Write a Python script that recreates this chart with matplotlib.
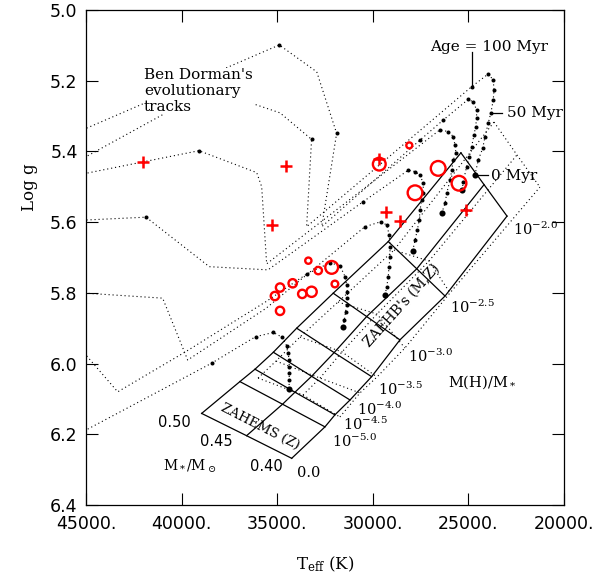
import matplotlib

matplotlib.use("Agg")
import matplotlib.pyplot as plt
from matplotlib.ticker import FixedLocator, FuncFormatter

plt.rcParams["font.family"] = ["DejaVu Serif"]
plt.rcParams["mathtext.fontset"] = "dejavuserif"

# ZAEHB grid: rows = M(H)/M* level (ZAHEMS, 1e-5.0 ... 1e-2.0), cols = M*/Msun 0.50, 0.45, 0.40
grid_teff = [
    [38950, 36600, 34240],
    [36950, 34720, 32500],
    [36160, 34070, 31980],
    [35200, 33200, 31190],
    [33980, 32020, 30060],
    [32070, 30320, 28580],
    [29190, 27700, 26220],
    [25390, 24180, 22980],
]
grid_logg = [
    [6.141, 6.204, 6.268],
    [6.051, 6.115, 6.179],
    [6.016, 6.081, 6.145],
    [5.968, 6.036, 6.103],
    [5.900, 5.969, 6.037],
    [5.801, 5.867, 5.933],
    [5.655, 5.732, 5.809],
    [5.404, 5.494, 5.583],
]
# second (dotted) ZAEHB grid, levels 1e-4.5 ... 1e-2.0
dgrid_teff = [
    [36000, 33650, 31720],
    [35060, 32760, 30670],
    [33810, 31610, 29780],
    [31820, 29780, 28320],
    [28890, 27060, 25960],
    [23660, 22460, 21260],
]
dgrid_logg = [
    [6.041, 6.089, 6.151],
    [5.993, 6.041, 6.083],
    [5.925, 5.967, 6.038],
    [5.826, 5.860, 5.956],
    [5.679, 5.710, 5.800],
    [5.317, 5.410, 5.501],
]

# evolutionary tracks, starting on the ZAEHB
track_a_teff = [34380, 34370, 34370, 34370, 34380, 34420, 34500, 34730, 35200, 36130, 38430, 45000]
track_a_logg = [6.072, 6.046, 6.028, 6.009, 5.990, 5.971, 5.950, 5.926, 5.912, 5.924, 5.999, 6.188]
track_b_teff = [31540, 31490, 31420, 31370, 31330, 31330, 31370, 31450, 31720, 32240, 33460,
                35590, 39770, 43340, 45000]
track_b_logg = [5.896, 5.877, 5.853, 5.834, 5.815, 5.797, 5.778, 5.754, 5.723, 5.715, 5.747,
                5.825, 5.966, 6.080, 5.976]
track_g_teff = [29360, 29270, 29190, 29150, 29100, 29100, 29140, 29270, 29590, 30410,
                35590, 39680, 40990, 45000]
track_g_logg = [5.806, 5.783, 5.754, 5.726, 5.698, 5.669, 5.636, 5.608, 5.599, 5.613,
                5.844, 5.990, 5.815, 5.801]
track_f_teff = [27910, 27790, 27670, 27570, 27530, 27440, 27360, 27360, 27530, 27790, 28140, 30500,
                35480, 38550, 41860, 45000]
track_f_logg = [5.681, 5.651, 5.622, 5.594, 5.566, 5.537, 5.518, 5.490, 5.467, 5.457, 5.453, 5.542,
                5.735, 5.726, 5.586, 5.594]
track_e_teff = [26400, 26220, 26130, 25960, 25870, 25790, 25650, 25700, 25790, 26050, 26490,
                35550, 35810, 36070, 39090, 45000]
track_e_logg = [5.575, 5.547, 5.518, 5.481, 5.453, 5.424, 5.405, 5.382, 5.358, 5.344, 5.339,
                5.718, 5.500, 5.460, 5.398, 5.462]
track_d_teff = [25320, 25270, 25090, 24950, 24830, 24710, 24620, 24570, 24570, 24740, 25010, 26310, 27530,
                32670, 31890, 32930, 34890, 45000]
track_d_logg = [5.509, 5.486, 5.443, 5.415, 5.387, 5.354, 5.330, 5.306, 5.283, 5.260, 5.253, 5.311, 5.368,
                5.613, 5.349, 5.175, 5.099, 5.335]
track_c_teff = [24660, 24480, 24250, 24130, 23960, 23820, 23700, 23660, 23700, 23960, 24830,
                33460, 33200, 34850, 37310, 39400, 45000]
track_c_logg = [5.467, 5.424, 5.391, 5.358, 5.320, 5.290, 5.255, 5.226, 5.198, 5.181, 5.217,
                5.613, 5.366, 5.291, 5.246, 5.249, 5.415]
# (teff, logg, number of leading points marked with a time-step dot)
tracks = [
    (track_a_teff, track_a_logg, 11),
    (track_b_teff, track_b_logg, 11),
    (track_g_teff, track_g_logg, 10),
    (track_f_teff, track_f_logg, 12),
    (track_e_teff, track_e_logg, 11),
    (track_d_teff, track_d_logg, 13),
    (track_c_teff, track_c_logg, 11),
]
# isolated dots along the post-EHB parts of Dorman's tracks
post_dot_teff = [34890, 31890, 33200, 39090, 41860]
post_dot_logg = [5.099, 5.349, 5.366, 5.398, 5.586]

# observed stars
cross_teff = [42000, 34540, 35260, 29330, 28580, 25130, 29660]
cross_logg = [5.431, 5.442, 5.608, 5.571, 5.596, 5.566, 5.422]
circle_teff = [29660, 28090, 26580, 27790, 25490, 32150, 31980, 33370, 32850, 34190,
               34850, 35120, 33690, 33200, 34850]
circle_logg = [5.436, 5.383, 5.448, 5.517, 5.490, 5.728, 5.775, 5.709, 5.737, 5.773,
               5.785, 5.809, 5.803, 5.797, 5.851]
circle_size = [9.2, 4.3, 10.6, 10.6, 10.6, 9.2, 4.8, 4.5, 5.3, 6.0, 6.0, 6.0, 6.0, 7.4, 6.0]

mh_labels = [r"$10^{-2.0}$", r"$10^{-2.5}$", r"$10^{-3.0}$", r"$10^{-3.5}$",
             r"$10^{-4.0}$", r"$10^{-4.5}$", r"$10^{-5.0}$", "0.0"]
mh_label_teff = [22670, 25960, 28140, 29710, 30810, 31580, 32150, 33980]
mh_label_logg = [5.636, 5.857, 5.995, 6.089, 6.145, 6.188, 6.235, 6.320]
mass_labels = ["0.50", "0.45", "0.40"]
mass_label_teff = [41220, 39040, 36420]
mass_label_logg = [6.179, 6.232, 6.303]

fig = plt.figure(figsize=(6.05, 5.83), dpi=100)
ax = fig.add_axes([0.1421, 0.1338, 0.7901, 0.8491])

DOT = dict(color="black", lw=0.8, ls=(0, (1, 2.6)))

# dotted grid
for row_t, row_g in zip(dgrid_teff, dgrid_logg):
    ax.plot(row_t, row_g, **DOT)
for j in range(3):
    ax.plot([r[j] for r in dgrid_teff], [r[j] for r in dgrid_logg], **DOT)

# solid ZAEHB grid
for row_t, row_g in zip(grid_teff, grid_logg):
    ax.plot(row_t, row_g, color="black", lw=0.9)
for j in range(3):
    ax.plot([r[j] for r in grid_teff], [r[j] for r in grid_logg], color="black", lw=0.9)

# tracks
for t, g, n in tracks:
    ax.plot(t, g, **DOT)
    ax.plot(t[1:n], g[1:n], "o", color="black", ms=2.9, mew=0)
    ax.plot(t[:1], g[:1], "o", color="black", ms=4.4, mew=0)
ax.plot(post_dot_teff, post_dot_logg, "o", color="black", ms=2.9, mew=0)

# stars
ax.plot(cross_teff, cross_logg, "+", color="red", ms=9, mew=1.8, zorder=5)
ax.scatter(circle_teff, circle_logg, s=[m ** 2 for m in circle_size], facecolors="none",
           edgecolors="red", linewidths=1.7, zorder=5)

# annotations
ax.text(41970, 5.165, "Ben Dorman's\nevolutionary\ntracks", fontsize=11, ha="left", va="top",
        linespacing=1.15, bbox=dict(facecolor="white", edgecolor="none", pad=0.3), zorder=4)
ax.text(23920, 5.106, "Age = 100 Myr", fontsize=11, ha="center", va="center")
ax.plot([24830, 24830], [5.120, 5.217], color="black", lw=0.9)
ax.text(23000, 5.291, "50 Myr", fontsize=11, ha="left", va="center")
ax.plot([23780, 23220], [5.290, 5.290], color="black", lw=0.9)
ax.text(23820, 5.469, "0 Myr", fontsize=11, ha="left", va="center")
ax.plot([24570, 23960], [5.467, 5.467], color="black", lw=0.9)

for lbl, t, g in zip(mh_labels, mh_label_teff, mh_label_logg):
    ax.text(t, g, lbl, fontsize=10.5, ha="left", va="baseline")
for lbl, t, g in zip(mass_labels, mass_label_teff, mass_label_logg):
    ax.text(t, g, lbl, fontsize=10.5, ha="left", va="baseline", family="DejaVu Sans")
ax.text(40960, 6.303, r"M$_*$/M$_\odot$", fontsize=10, ha="left", va="baseline")
ax.text(26050, 6.065, r"M(H)/M$_*$", fontsize=10.5, ha="left", va="baseline")
ax.text(35900, 6.179, "ZAHEMS (Z)", fontsize=9.5, ha="center", va="center", rotation=-27)
ax.text(28470, 5.834, "ZAEHB's (M,Z)", fontsize=10, ha="center", va="center", rotation=48)

ax.set_xlim(45000, 20000)
ax.set_ylim(6.4, 5.0)
ax.xaxis.set_major_locator(FixedLocator([45000, 40000, 35000, 30000, 25000, 20000]))
ax.yaxis.set_major_locator(FixedLocator([5.0, 5.2, 5.4, 5.6, 5.8, 6.0, 6.2, 6.4]))
ax.xaxis.set_major_formatter(FuncFormatter(lambda v, p: f"{v:.0f}."))
ax.yaxis.set_major_formatter(FuncFormatter(lambda v, p: f"{v:.1f}"))
ax.tick_params(direction="in", length=8.5, width=0.8, top=True, right=True, labelsize=12.5)
ax.tick_params(axis="x", pad=7)
ax.tick_params(axis="y", pad=6)
for lbl in ax.get_xticklabels() + ax.get_yticklabels():
    lbl.set_family("DejaVu Sans")
for sp in ax.spines.values():
    sp.set_linewidth(0.9)

ax.set_xlabel(r"T$_{\rm eff}$ (K)", fontsize=12)
ax.xaxis.set_label_coords(0.5, -0.100)
ax.set_ylabel("Log g", fontsize=12)
ax.yaxis.set_label_coords(-0.10, 0.642)

fig.savefig("out.png", dpi=100)
